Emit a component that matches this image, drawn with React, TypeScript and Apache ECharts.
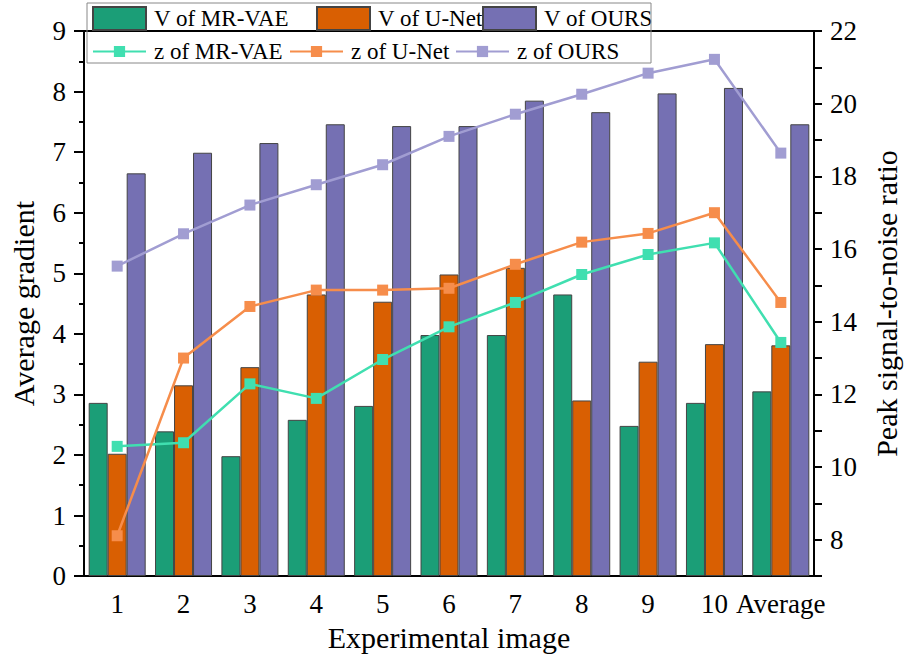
import React, { useEffect, useRef } from "react";
import * as echarts from "echarts";

const categories = ["1", "2", "3", "4", "5", "6", "7", "8", "9", "10", "Average"];
const vMRVAE = [2.86, 2.39, 1.98, 2.58, 2.81, 3.98, 3.98, 4.65, 2.48, 2.86, 3.05];
const vUNet = [2.02, 3.15, 3.45, 4.65, 4.53, 4.98, 5.09, 2.9, 3.54, 3.83, 3.81];
const vOurs = [6.65, 6.99, 7.15, 7.46, 7.43, 7.43, 7.85, 7.66, 7.97, 8.06, 7.46];
const zMRVAE = [10.57, 10.67, 12.29, 11.89, 12.96, 13.86, 14.53, 15.3, 15.85, 16.17, 13.43];
const zUNet = [8.11, 13.0, 14.42, 14.87, 14.87, 14.92, 15.58, 16.19, 16.43, 17.0, 14.53];
const zOurs = [15.53, 16.42, 17.21, 17.77, 18.32, 19.1, 19.71, 20.26, 20.84, 21.22, 18.64];

const FONT = "Liberation Serif, Times New Roman, serif";

export default function App() {
  const ref = useRef<HTMLDivElement>(null);
  useEffect(() => {
    document.body.style.margin = "0";
    if (!ref.current) return;
    const chart = echarts.init(ref.current, null, { renderer: "svg" });
    const barItem = (color: string) => ({ color, borderColor: "#444", borderWidth: 1 });
    const lineSeries = (name: string, data: number[], color: string) => ({
      name,
      type: "line",
      yAxisIndex: 1,
      data,
      symbol: "rect",
      symbolSize: 11,
      lineStyle: { color, width: 2.5 },
      itemStyle: { color },
      z: 5,
    });
    const legendItem = (name: string, left: number, top: number, h: number, icon?: string) => ({
      data: icon ? [{ name, icon }] : [name],
      left,
      top,
      padding: 0,
      itemWidth: 53,
      itemHeight: h,
      selectedMode: false,
      textStyle: { fontFamily: FONT, fontSize: 23, color: "#000", padding: [0, 0, 0, 3] },
    });
    chart.setOption({
      animation: false,
      textStyle: { fontFamily: FONT },
      grid: {
        left: 83,
        right: 89,
        top: 31,
        bottom: 79,
        show: true,
        borderColor: "#000",
        borderWidth: 2,
        backgroundColor: "transparent",
      },
      legend: [
        legendItem("V of MR-VAE", 92, 6, 23, "rect"),
        legendItem("V of U-Net", 316, 6, 23, "rect"),
        legendItem("V of OURS", 482, 6, 23, "rect"),
        legendItem("z of MR-VAE", 92, 40, 14),
        legendItem("z of U-Net", 289, 40, 14),
        legendItem("z of OURS", 455, 40, 14),
      ],
      graphic: [
        {
          type: "rect",
          shape: { x: 87, y: 3, width: 564, height: 60 },
          style: { fill: "none", stroke: "#888", lineWidth: 1 },
          z: 100,
        },
      ],
      xAxis: {
        type: "category",
        data: categories,
        name: "Experimental image",
        nameLocation: "middle",
        nameGap: 41,
        nameTextStyle: { fontFamily: FONT, fontSize: 30, color: "#000" },
        axisLine: { lineStyle: { color: "#000", width: 2 } },
        axisTick: { alignWithLabel: true, inside: false, length: 10, lineStyle: { width: 2, color: "#000" } },
        axisLabel: { fontFamily: FONT, fontSize: 27, color: "#000", margin: 14, interval: 0, hideOverlap: false },
      },
      yAxis: [
        {
          type: "value",
          min: 0,
          max: 9,
          interval: 1,
          name: "Average gradient",
          nameLocation: "middle",
          nameGap: 46,
          nameTextStyle: { fontFamily: FONT, fontSize: 30, color: "#000" },
          axisLine: { show: true, lineStyle: { color: "#000", width: 2 } },
          axisTick: { show: true, length: 10, lineStyle: { width: 2, color: "#000" } },
          minorTick: { show: true, splitNumber: 2, length: 5, lineStyle: { width: 2, color: "#000" } },
          splitLine: { show: false },
          axisLabel: { fontFamily: FONT, fontSize: 27, color: "#000", margin: 18 },
        },
        {
          type: "value",
          min: 7,
          max: 22,
          interval: 1,
          position: "right",
          name: "Peak signal-to-noise ratio",
          nameLocation: "middle",
          nameGap: 57,
          nameTextStyle: { fontFamily: FONT, fontSize: 30, color: "#000" },
          axisLine: { show: true, lineStyle: { color: "#000", width: 2 } },
          axisTick: { show: true, length: 8, lineStyle: { width: 2, color: "#000" } },
          splitLine: { show: false },
          axisLabel: {
            fontFamily: FONT,
            fontSize: 27,
            color: "#000",
            margin: 16,
            formatter: (v: number) => (v % 2 === 0 ? String(v) : ""),
          },
        },
      ],
      series: [
        { name: "V of MR-VAE", type: "bar", data: vMRVAE, barWidth: 19, barGap: "0%", itemStyle: barItem("#1b9e77") },
        { name: "V of U-Net", type: "bar", data: vUNet, barWidth: 19, barGap: "0%", itemStyle: barItem("#d95f02") },
        { name: "V of OURS", type: "bar", data: vOurs, barWidth: 19, barGap: "0%", itemStyle: barItem("#7570b3") },
        lineSeries("z of MR-VAE", zMRVAE, "#40dfb0"),
        lineSeries("z of U-Net", zUNet, "#f68d4b"),
        lineSeries("z of OURS", zOurs, "#a19dd2"),
      ],
    });
    return () => chart.dispose();
  }, []);
  return <div ref={ref} style={{ width: 909, height: 657 }} />;
}
